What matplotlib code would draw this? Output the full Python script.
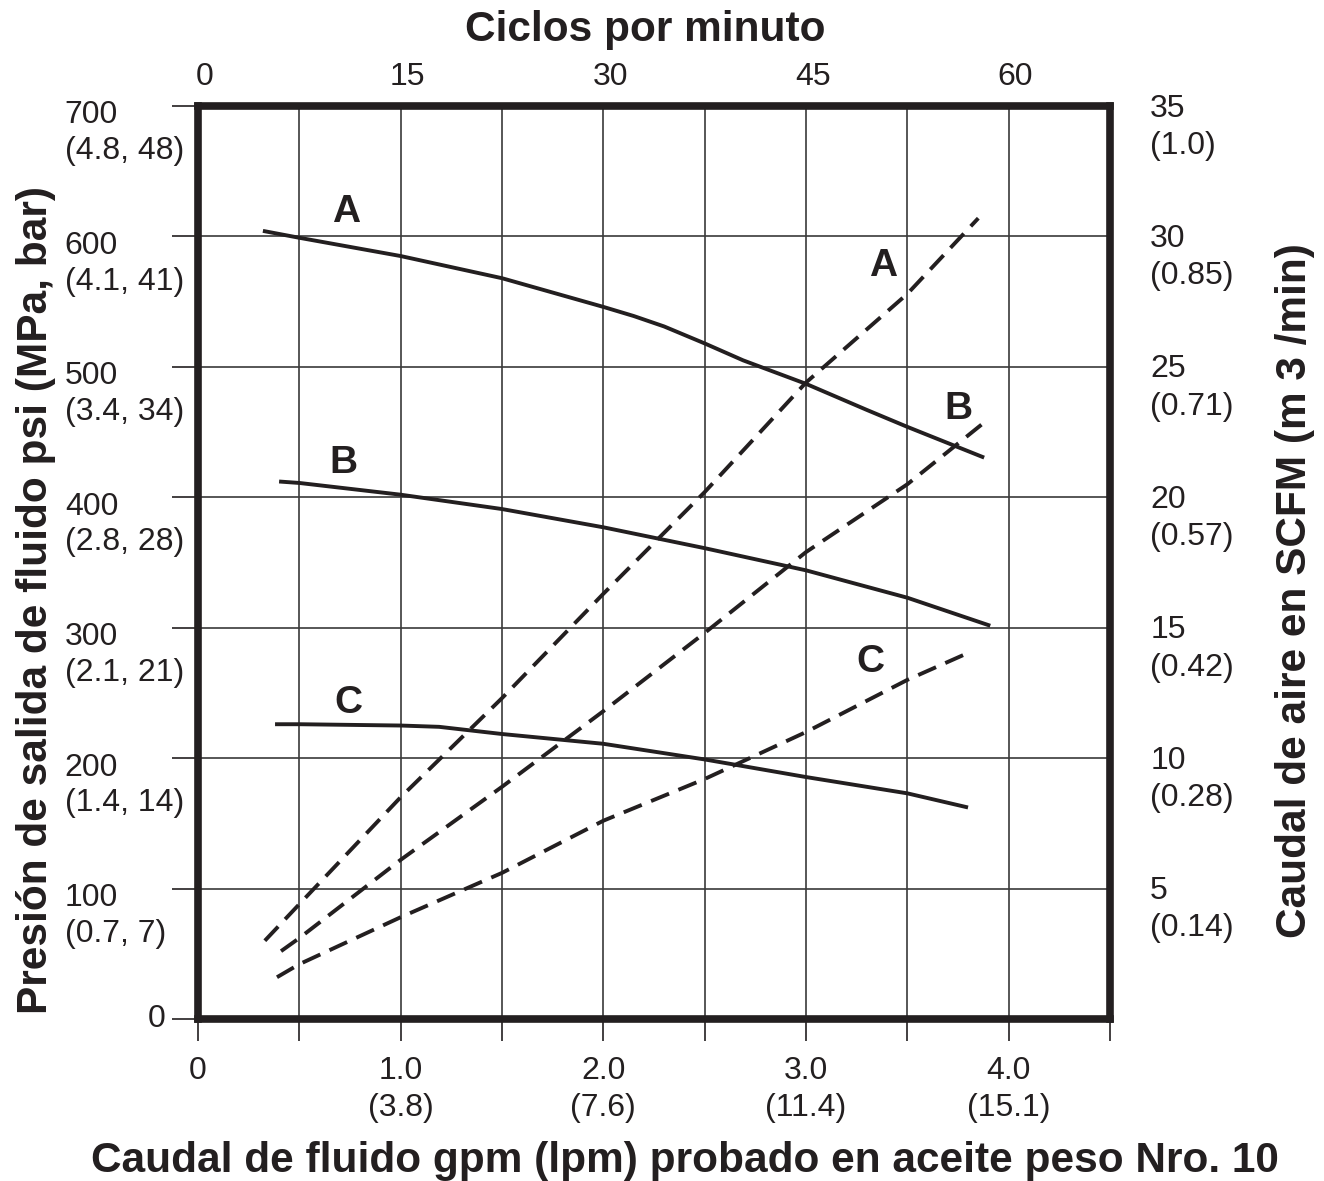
import matplotlib
matplotlib.use("Agg")
import matplotlib.pyplot as plt
import matplotlib.transforms as mtransforms

plt.rcParams['font.family'] = ['Liberation Sans', 'DejaVu Sans']
INK = '#231f20'

# pressure curves (gpm, psi)
a_gpm = [0.33, 0.5, 1.0, 1.5, 2.0, 2.15, 2.3, 2.5, 2.69, 3.0, 3.3, 3.5, 3.87]
a_psi = [604, 599, 585, 568, 546, 539, 531, 518, 505, 487, 467, 454, 431]
b_gpm = [0.41, 0.5, 1.0, 1.5, 2.0, 2.5, 3.0, 3.5, 3.9]
b_psi = [412, 411, 402, 391, 377, 361, 344, 323, 302]
c_gpm = [0.39, 0.5, 1.0, 1.19, 1.5, 2.0, 2.5, 3.0, 3.5, 3.79]
c_psi = [226, 226, 225, 224, 218.5, 211, 199, 185.5, 173, 162.5]

# air consumption curves (gpm, SCFM)
a_air_gpm = [0.33, 0.5, 1.0, 1.5, 2.0, 2.5, 3.0, 3.5, 3.85]
a_air = [3.0, 4.4, 8.5, 12.3, 16.3, 20.2, 24.4, 27.8, 30.7]
b_air_gpm = [0.41, 0.5, 1.0, 1.5, 2.0, 2.5, 3.0, 3.5, 3.9]
b_air = [2.6, 3.1, 6.1, 8.9, 11.8, 14.8, 17.9, 20.5, 23.0]
c_air_gpm = [0.39, 0.5, 1.0, 1.5, 2.0, 2.5, 3.0, 3.5, 3.79]
c_air = [1.6, 2.1, 3.9, 5.6, 7.6, 9.2, 11.0, 13.0, 14.0]

psi_ticks = [0, 100, 200, 300, 400, 500, 600, 700]
psi_labels = ['0', '100\n(0.7, 7)', '200\n(1.4, 14)', '300\n(2.1, 21)',
              '400\n(2.8, 28)', '500\n(3.4, 34)', '600\n(4.1, 41)', '700\n(4.8, 48)']
scfm_ticks = [5, 10, 15, 20, 25, 30, 35]
scfm_labels = ['5\n(0.14)', '10\n(0.28)', '15\n(0.42)', '20\n(0.57)',
               '25\n(0.71)', '30\n(0.85)', '35\n(1.0)']
gpm_ticks = [0, 0.5, 1.0, 1.5, 2.0, 2.5, 3.0, 3.5, 4.0, 4.5]
gpm_labels = ['0', '', '1.0\n(3.8)', '', '2.0\n(7.6)', '', '3.0\n(11.4)', '', '4.0\n(15.1)', '']
cycle_ticks = [0, 15, 30, 45, 60]

fig = plt.figure(figsize=(13.24, 11.81), dpi=100)
ax = fig.add_axes([0.1495, 0.1372, 0.6889, 0.773])
ax.set_xlim(0, 4.5)
ax.set_ylim(0, 700)

ax.set_xticks(gpm_ticks)
ax.set_xticklabels(gpm_labels, fontsize=23, color=INK, linespacing=1.3)
ax.set_yticks(psi_ticks)
ax.set_yticklabels([])
ax.tick_params(axis='x', direction='out', length=16, width=1.2, color=INK, pad=11)
ax.tick_params(axis='y', direction='out', length=19, width=1.2, color=INK)
ax.grid(True, color='#3a3a3a', linewidth=1.2, zorder=0)
for s in ax.spines.values():
    s.set_linewidth(5.5)
    s.set_color(INK)

# left labels
trans_l = mtransforms.blended_transform_factory(ax.transAxes, ax.transData)
up_l = mtransforms.ScaledTranslation(0, 4 / 72, fig.dpi_scale_trans)
up_r = mtransforms.ScaledTranslation(0, 9 / 72, fig.dpi_scale_trans)
for v, lab in zip(psi_ticks, psi_labels):
    if v == 0:
        ax.text(-0.045, v, lab, transform=trans_l, ha='center', va='center',
                fontsize=23, color=INK)
    else:
        ax.text(-0.146, v, lab, transform=trans_l + up_l, ha='left', va='top',
                fontsize=23, color=INK, linespacing=1.25)

lw = 2.8
ax.plot(a_gpm, a_psi, color=INK, lw=lw, zorder=3)
ax.plot(b_gpm, b_psi, color=INK, lw=lw, zorder=3)
ax.plot(c_gpm, c_psi, color=INK, lw=lw, zorder=3)

ax2 = ax.twinx()
ax2.set_ylim(0, 35)
ax2.set_yticks([])
for s in ax2.spines.values():
    s.set_visible(False)
dash = (0, (5, 2.6))
ax2.plot(a_air_gpm, a_air, color=INK, lw=lw, ls=dash, dash_capstyle='butt', zorder=3)
ax2.plot(b_air_gpm, b_air, color=INK, lw=lw, ls=dash, dash_capstyle='butt', zorder=3)
ax2.plot(c_air_gpm, c_air, color=INK, lw=lw, ls=dash, dash_capstyle='butt', zorder=3)

trans_r = mtransforms.blended_transform_factory(ax2.transAxes, ax2.transData)
for v, lab in zip(scfm_ticks, scfm_labels):
    ax2.text(1.044, v, lab, transform=trans_r + up_r, ha='left', va='top',
             fontsize=23, color=INK, linespacing=1.32)

# curve letters
for x, y, t in [(0.73, 619, 'A'), (3.38, 577, 'A'), (0.72, 426, 'B'),
                (3.75, 468, 'B'), (0.74, 242, 'C'), (3.32, 274, 'C')]:
    ax.text(x, y, t, ha='center', va='center', fontsize=28, fontweight='bold',
            color=INK, zorder=4)

# top axis: cycles per minute
secax = ax.secondary_xaxis('top', functions=(lambda g: g * 15 - 0.5,
                                             lambda c: (c + 0.5) / 15))
secax.set_xticks(cycle_ticks)
secax.tick_params(length=0, pad=10, labelsize=23, labelcolor=INK)
secax.spines['top'].set_visible(False)

fig.text(0.487, 0.975, 'Ciclos por minuto', ha='center', va='center',
         fontsize=30.5, fontweight='bold', color=INK)
fig.text(0.517, 0.017, 'Caudal de fluido gpm (lpm) probado en aceite peso Nro. 10',
         ha='center', va='center', fontsize=30.5, fontweight='bold', color=INK)
fig.text(0.027, 0.492, 'Presión de salida de fluido psi (MPa, bar)', ha='center',
         va='center', rotation=90, fontsize=30.5, fontweight='bold', color=INK)
fig.text(0.978, 0.500, 'Caudal de aire en SCFM (m 3 /min)', ha='center',
         va='center', rotation=90, fontsize=30.5, fontweight='bold', color=INK)

fig.savefig('out.png', dpi=100)
